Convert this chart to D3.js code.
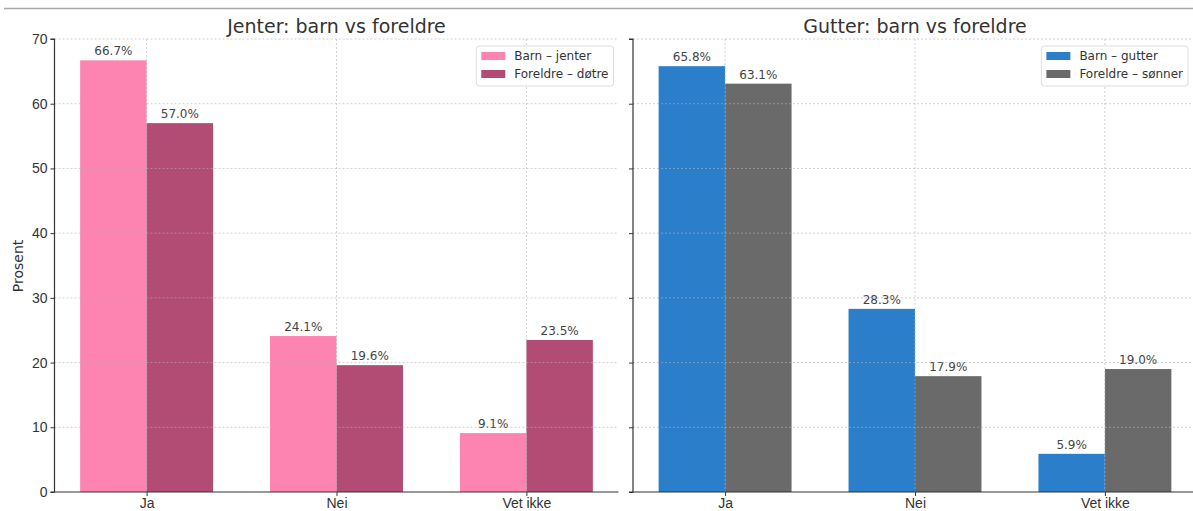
<!DOCTYPE html>
<html>
<head>
<meta charset="utf-8">
<script src="https://cdn.jsdelivr.net/npm/d3@7"></script>
<style>
  body { margin: 0; background: #fff; }
  svg { font-family: "DejaVu Sans", sans-serif; display: block; }
  .grid line { stroke: #b0b0b0; stroke-dasharray: 2,2; stroke-opacity: 0.6; }
  .axis path, .axis line { stroke: #333; }
  .axis text { fill: #333; font-size: 14px; }
</style>
</head>
<body>
<div id="chart"></div>
<script>
// categories and values
var categories = ["Ja", "Nei", "Vet ikke"];
var yTicks = [0, 10, 20, 30, 40, 50, 60, 70];

var barnJenter = [66.7, 24.1, 9.1];
var foreldreDotre = [57.0, 19.6, 23.5];
var barnGutter = [65.8, 28.3, 5.9];
var foreldreSonner = [63.1, 17.9, 19.0];

var panels = [
  { title: "Jenter: barn vs foreldre", series: [
      { name: "Barn – jenter", values: barnJenter, color: "#fd84b0" },
      { name: "Foreldre – døtre", values: foreldreDotre, color: "#b24c75" }
    ], left: 54.5, showLabels: true },
  { title: "Gutter: barn vs foreldre", series: [
      { name: "Barn – gutter", values: barnGutter, color: "#2b7fca" },
      { name: "Foreldre – sønner", values: foreldreSonner, color: "#6a6a6a" }
    ], left: 633, showLabels: false }
];

var w = 1193, h = 511;
var plotTop = 39, plotBottom = 492;
var panelW = 564;
var barW = 0.35;

var svg = d3.select("#chart").append("svg")
  .attr("width", w).attr("height", h);

// thin line at the top
svg.append("line")
  .attr("x1", 4).attr("x2", w).attr("y1", 8.5).attr("y2", 8.5)
  .attr("stroke", "#a8a8a8").attr("stroke-width", 1.5);

var yScale = d3.scaleLinear().domain([0, 70]).range([plotBottom, plotTop]);

panels.forEach(function(p) {
  var xScale = d3.scaleLinear()
    .domain([-0.485, 2.485])
    .range([p.left, p.left + panelW]);

  var g = svg.append("g");

  // bars
  p.series.forEach(function(s, si) {
    var off = si === 0 ? -barW : 0;
    g.selectAll(".bar" + si)
      .data(s.values)
      .enter()
      .append("rect")
      .attr("x", function(d, i) { return xScale(i + off); })
      .attr("width", xScale(barW) - xScale(0))
      .attr("y", function(d) { return yScale(d); })
      .attr("height", function(d) { return plotBottom - yScale(d); })
      .attr("fill", s.color);

    g.selectAll(".lab" + si)
      .data(s.values)
      .enter()
      .append("text")
      .attr("x", function(d, i) { return xScale(i + off + barW / 2); })
      .attr("y", function(d) { return yScale(d) - 5; })
      .attr("text-anchor", "middle")
      .attr("font-size", "12px")
      .attr("fill", "#444")
      .text(function(d) { return d.toFixed(1) + "%"; });
  });

  // grid (on top, faint)
  var grid = g.append("g").attr("class", "grid");
  grid.selectAll(".gy")
    .data(yTicks.slice(1))
    .enter().append("line")
    .attr("x1", p.left).attr("x2", p.left + panelW)
    .attr("y1", function(d) { return yScale(d); })
    .attr("y2", function(d) { return yScale(d); });
  grid.selectAll(".gx")
    .data(categories)
    .enter().append("line")
    .attr("x1", function(d, i) { return xScale(i); })
    .attr("x2", function(d, i) { return xScale(i); })
    .attr("y1", plotTop).attr("y2", plotBottom);

  // axes
  var yAxis = d3.axisLeft(yScale).tickValues(yTicks).tickSize(4).tickPadding(3);
  if (!p.showLabels) yAxis.tickFormat("");
  var ya = g.append("g")
    .attr("class", "axis")
    .attr("transform", "translate(" + p.left + ",0)")
    .call(yAxis);
  ya.select(".domain").attr("d", "M-4," + plotTop + "H0V" + plotBottom + "H-4")
    .attr("stroke-width", 1.2);

  var xAxis = d3.axisBottom(xScale)
    .tickValues([0, 1, 2])
    .tickFormat(function(d) { return categories[d]; })
    .tickSize(4).tickPadding(2);
  var xa = g.append("g")
    .attr("class", "axis")
    .attr("transform", "translate(0," + plotBottom + ")")
    .call(xAxis);
  xa.select(".domain").attr("d", "M" + p.left + ",0H" + (p.left + panelW))
    .attr("stroke-width", 1.2);

  // title
  g.append("text")
    .attr("x", p.left + panelW / 2)
    .attr("y", 33)
    .attr("text-anchor", "middle")
    .attr("font-size", "19px")
    .attr("fill", "#333")
    .text(p.title);

  // legend, sized to its text
  var lg = g.append("g");
  var box = lg.append("rect")
    .attr("height", 40)
    .attr("rx", 3)
    .attr("fill", "#fff").attr("fill-opacity", 0.85)
    .attr("stroke", "#ddd");
  var maxLen = 0;
  p.series.forEach(function(s, si) {
    lg.append("rect")
      .attr("x", 5).attr("y", 6 + si * 18)
      .attr("width", 24).attr("height", 8)
      .attr("fill", s.color);
    var t = lg.append("text")
      .attr("x", 38).attr("y", 14 + si * 18)
      .attr("font-size", "12px")
      .attr("fill", "#333")
      .text(s.name);
    maxLen = Math.max(maxLen, t.node().getComputedTextLength());
  });
  var boxW = maxLen + 43;
  box.attr("width", boxW);
  var lx = Math.min(p.left + panelW, w) - 5 - boxW;
  lg.attr("transform", "translate(" + lx + ",46)");
});

// y label
svg.append("text")
  .attr("transform", "translate(23,266) rotate(-90)")
  .attr("text-anchor", "middle")
  .attr("font-size", "14px")
  .attr("fill", "#333")
  .text("Prosent");
</script>
</body>
</html>
